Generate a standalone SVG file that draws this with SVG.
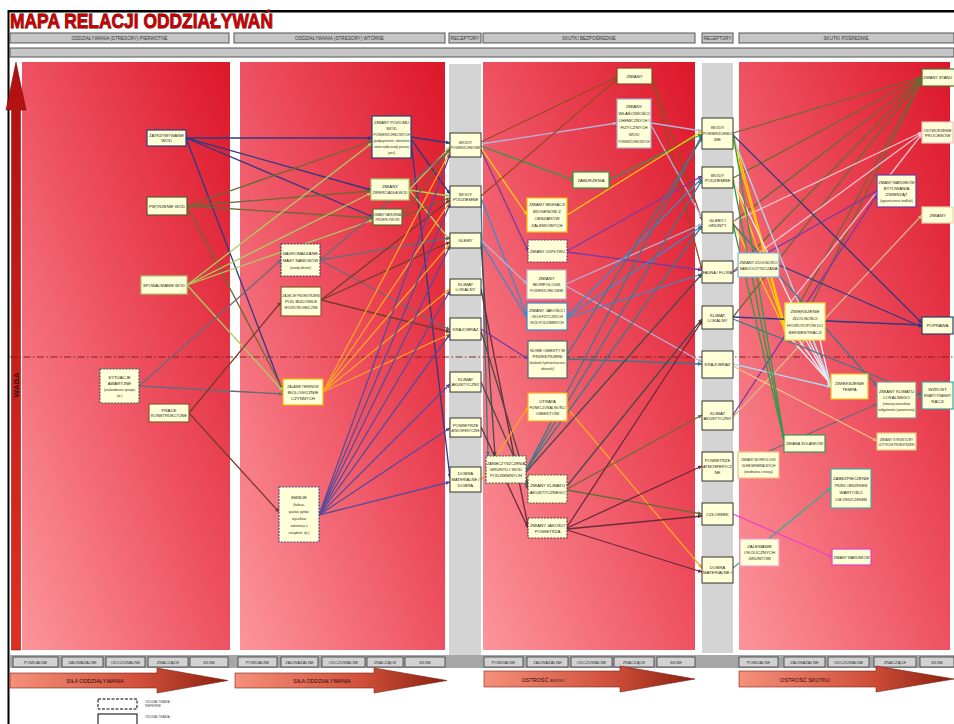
<svg xmlns="http://www.w3.org/2000/svg" width="954" height="724" viewBox="0 0 954 724">
<defs>
<linearGradient id="panel" x1="0" y1="1" x2="1" y2="0">
<stop offset="0" stop-color="#fc959b"/><stop offset="0.5" stop-color="#ee5262"/><stop offset="1" stop-color="#dc1729"/>
</linearGradient>
<linearGradient id="arr" x1="0" y1="0" x2="1" y2="0">
<stop offset="0" stop-color="#f5907a"/><stop offset="0.6" stop-color="#d0503a"/><stop offset="1" stop-color="#8a1f10"/>
</linearGradient>
<linearGradient id="waga" x1="0" y1="1" x2="0" y2="0">
<stop offset="0" stop-color="#e03020"/><stop offset="1" stop-color="#b01010"/>
</linearGradient>
<marker id="m-nv" viewBox="0 0 6 6" refX="6" refY="3" markerWidth="4" markerHeight="4" orient="auto" markerUnits="userSpaceOnUse"><path d="M0,0L6,3L0,6z" fill="#2e3a82"/></marker>
<marker id="m-ol" viewBox="0 0 6 6" refX="6" refY="3" markerWidth="4" markerHeight="4" orient="auto" markerUnits="userSpaceOnUse"><path d="M0,0L6,3L0,6z" fill="#6b6a34"/></marker>
<marker id="m-lg" viewBox="0 0 6 6" refX="6" refY="3" markerWidth="4" markerHeight="4" orient="auto" markerUnits="userSpaceOnUse"><path d="M0,0L6,3L0,6z" fill="#a8d060"/></marker>
<marker id="m-gy" viewBox="0 0 6 6" refX="6" refY="3" markerWidth="4" markerHeight="4" orient="auto" markerUnits="userSpaceOnUse"><path d="M0,0L6,3L0,6z" fill="#6a6a78"/></marker>
<marker id="m-br" viewBox="0 0 6 6" refX="6" refY="3" markerWidth="4" markerHeight="4" orient="auto" markerUnits="userSpaceOnUse"><path d="M0,0L6,3L0,6z" fill="#7a3a2a"/></marker>
<marker id="m-or" viewBox="0 0 6 6" refX="6" refY="3" markerWidth="4" markerHeight="4" orient="auto" markerUnits="userSpaceOnUse"><path d="M0,0L6,3L0,6z" fill="#ffa520"/></marker>
<marker id="m-pu" viewBox="0 0 6 6" refX="6" refY="3" markerWidth="4" markerHeight="4" orient="auto" markerUnits="userSpaceOnUse"><path d="M0,0L6,3L0,6z" fill="#5a4a9a"/></marker>
<marker id="m-bn" viewBox="0 0 6 6" refX="6" refY="3" markerWidth="4" markerHeight="4" orient="auto" markerUnits="userSpaceOnUse"><path d="M0,0L6,3L0,6z" fill="#9a4a22"/></marker>
<marker id="m-lv" viewBox="0 0 6 6" refX="6" refY="3" markerWidth="4" markerHeight="4" orient="auto" markerUnits="userSpaceOnUse"><path d="M0,0L6,3L0,6z" fill="#b4b4d8"/></marker>
<marker id="m-gn" viewBox="0 0 6 6" refX="6" refY="3" markerWidth="4" markerHeight="4" orient="auto" markerUnits="userSpaceOnUse"><path d="M0,0L6,3L0,6z" fill="#2e9a4a"/></marker>
<marker id="m-ye" viewBox="0 0 6 6" refX="6" refY="3" markerWidth="4" markerHeight="4" orient="auto" markerUnits="userSpaceOnUse"><path d="M0,0L6,3L0,6z" fill="#ffd000"/></marker>
<marker id="m-vi" viewBox="0 0 6 6" refX="6" refY="3" markerWidth="4" markerHeight="4" orient="auto" markerUnits="userSpaceOnUse"><path d="M0,0L6,3L0,6z" fill="#7a3aa0"/></marker>
<marker id="m-bl" viewBox="0 0 6 6" refX="6" refY="3" markerWidth="4" markerHeight="4" orient="auto" markerUnits="userSpaceOnUse"><path d="M0,0L6,3L0,6z" fill="#3a8ad0"/></marker>
<marker id="m-tl" viewBox="0 0 6 6" refX="6" refY="3" markerWidth="4" markerHeight="4" orient="auto" markerUnits="userSpaceOnUse"><path d="M0,0L6,3L0,6z" fill="#3a7a8a"/></marker>
<marker id="m-dk" viewBox="0 0 6 6" refX="6" refY="3" markerWidth="4" markerHeight="4" orient="auto" markerUnits="userSpaceOnUse"><path d="M0,0L6,3L0,6z" fill="#4a4a4a"/></marker>
<marker id="m-dr" viewBox="0 0 6 6" refX="6" refY="3" markerWidth="4" markerHeight="4" orient="auto" markerUnits="userSpaceOnUse"><path d="M0,0L6,3L0,6z" fill="#6a2a3a"/></marker>
<marker id="m-wh" viewBox="0 0 6 6" refX="6" refY="3" markerWidth="4" markerHeight="4" orient="auto" markerUnits="userSpaceOnUse"><path d="M0,0L6,3L0,6z" fill="#eeeef6"/></marker>
<marker id="m-pk" viewBox="0 0 6 6" refX="6" refY="3" markerWidth="4" markerHeight="4" orient="auto" markerUnits="userSpaceOnUse"><path d="M0,0L6,3L0,6z" fill="#f4c0c8"/></marker>
<marker id="m-tn" viewBox="0 0 6 6" refX="6" refY="3" markerWidth="4" markerHeight="4" orient="auto" markerUnits="userSpaceOnUse"><path d="M0,0L6,3L0,6z" fill="#d8b888"/></marker>
<marker id="m-mg" viewBox="0 0 6 6" refX="6" refY="3" markerWidth="4" markerHeight="4" orient="auto" markerUnits="userSpaceOnUse"><path d="M0,0L6,3L0,6z" fill="#f040c0"/></marker>
<marker id="m-lo" viewBox="0 0 6 6" refX="6" refY="3" markerWidth="4" markerHeight="4" orient="auto" markerUnits="userSpaceOnUse"><path d="M0,0L6,3L0,6z" fill="#f8c080"/></marker>
<marker id="m-lb" viewBox="0 0 6 6" refX="6" refY="3" markerWidth="4" markerHeight="4" orient="auto" markerUnits="userSpaceOnUse"><path d="M0,0L6,3L0,6z" fill="#a8dcf0"/></marker>
<marker id="m-tg" viewBox="0 0 6 6" refX="6" refY="3" markerWidth="4" markerHeight="4" orient="auto" markerUnits="userSpaceOnUse"><path d="M0,0L6,3L0,6z" fill="#30b090"/></marker>
</defs>
<style>
text{font-family:"Liberation Sans",Arial,sans-serif;}
.t{font-size:4.3px;fill:#1a1a1a;text-anchor:middle;}
.ts{font-size:3.3px;fill:#2a2a2a;text-anchor:middle;}
.h{font-size:4.6px;fill:#333;text-anchor:middle;}
.hb{fill:#c6c6c6;stroke:#555;stroke-width:1;}
.btn{fill:#d2d2d2;stroke:#3a3a3a;stroke-width:0.8;}
.bt{font-size:4.2px;fill:#333;text-anchor:middle;}
.nd{fill:#ffffd8;stroke-width:1.2;}
.dash{stroke-dasharray:2,1.2;}
.rc{fill:#ffffd8;stroke:#333;stroke-width:1;}
.pan{fill:url(#panel);}
.c line{stroke-width:1.3;fill:none;}
.nv{stroke:#2e3a82;marker-end:url(#m-nv);}
.ol{stroke:#6b6a34;marker-end:url(#m-ol);}
.lg{stroke:#a8d060;marker-end:url(#m-lg);}
.gy{stroke:#6a6a78;marker-end:url(#m-gy);}
.br{stroke:#7a3a2a;marker-end:url(#m-br);}
.or{stroke:#ffa520;marker-end:url(#m-or);}
.pu{stroke:#5a4a9a;marker-end:url(#m-pu);}
.bn{stroke:#9a4a22;marker-end:url(#m-bn);}
.lv{stroke:#b4b4d8;marker-end:url(#m-lv);}
.gn{stroke:#2e9a4a;marker-end:url(#m-gn);}
.ye{stroke:#ffd000;marker-end:url(#m-ye);}
.vi{stroke:#7a3aa0;marker-end:url(#m-vi);}
.bl{stroke:#3a8ad0;marker-end:url(#m-bl);}
.tl{stroke:#3a7a8a;marker-end:url(#m-tl);}
.dk{stroke:#4a4a4a;marker-end:url(#m-dk);}
.dr{stroke:#6a2a3a;marker-end:url(#m-dr);}
.wh{stroke:#eeeef6;marker-end:url(#m-wh);}
.pk{stroke:#f4c0c8;marker-end:url(#m-pk);}
.tn{stroke:#d8b888;marker-end:url(#m-tn);}
.mg{stroke:#f040c0;marker-end:url(#m-mg);}
.lo{stroke:#f8c080;marker-end:url(#m-lo);}
.lb{stroke:#a8dcf0;marker-end:url(#m-lb);}
.tg{stroke:#30b090;marker-end:url(#m-tg);}
.arrow{fill:url(#arr);stroke:#7a2010;stroke-width:0.6;}
.at{font-size:5.4px;fill:#2a0a0a;text-anchor:middle;}
</style>
<rect x="0" y="0" width="954" height="724" fill="#ffffff"/>
<!-- frame -->
<line x1="8" y1="11.3" x2="954" y2="11.3" stroke="#000" stroke-width="2.6"/>
<line x1="8.5" y1="10" x2="8.5" y2="724" stroke="#000" stroke-width="2"/>
<text x="10" y="27.5" font-size="21" font-weight="bold" fill="#cc0000" stroke="#3a0000" stroke-width="0.8" paint-order="stroke" textLength="263" lengthAdjust="spacingAndGlyphs">MAPA RELACJI ODDZIAŁYWAŃ</text>
<!-- header -->
<g id="header">
<rect class="hb" x="10" y="33" width="219" height="10"/><text class="h" x="119.5" y="39.8">ODDZIAŁYWANIA (STRESORY) PIERWOTNE</text>
<rect class="hb" x="234" y="33" width="211" height="10"/><text class="h" x="339.5" y="39.8">ODDZIAŁYWANIA (STRESORY) WTÓRNE</text>
<rect class="hb" x="449" y="33" width="32" height="10"/><text class="h" x="465" y="39.8" textLength="29" lengthAdjust="spacingAndGlyphs">RECEPTORY</text>
<rect class="hb" x="483" y="33" width="212" height="10"/><text class="h" x="589" y="39.8">SKUTKI BEZPOŚREDNIE</text>
<rect class="hb" x="702" y="33" width="31" height="10"/><text class="h" x="717.5" y="39.8" textLength="28" lengthAdjust="spacingAndGlyphs">RECEPTORY</text>
<rect class="hb" x="739" y="33" width="215" height="10"/><text class="h" x="846" y="39.8">SKUTKI POŚREDNIE</text>
<rect class="hb" x="10" y="48" width="944" height="9"/>
</g>
<!-- panels -->
<g id="panels">
<rect class="pan" x="22" y="62" width="208" height="588"/>
<rect class="pan" x="240" y="62" width="205" height="588"/>
<rect x="449" y="64" width="32" height="592" fill="#d4d4d4"/>
<rect class="pan" x="483" y="62" width="212" height="588"/>
<rect x="702" y="63" width="31" height="590" fill="#d4d4d4"/>
<rect class="pan" x="739" y="62" width="211" height="588"/>
</g>
<!-- WAGA arrow -->
<g id="waga">
<polygon points="16,62 26,110 20.5,110 20.5,650 11.5,650 11.5,110 6,110" fill="url(#waga)" stroke="#700" stroke-width="0.5"/>
<text x="19" y="385" font-size="8" font-weight="bold" fill="#3a0a0a" text-anchor="middle" transform="rotate(-90 19 385)">WAGA</text>
</g>
<line x1="10" y1="357" x2="954" y2="357" stroke="#7a1a1a" stroke-width="0.9" stroke-dasharray="7,2.5,1.5,2.5"/>
<!-- connectors -->
<g id="connectors" class="c">
<line class="nv" x1="186" y1="138" x2="372" y2="138"/>
<line class="nv" x1="186" y1="138" x2="371" y2="190"/>
<line class="nv" x1="186" y1="138" x2="373" y2="217"/>
<line class="nv" x1="186" y1="138" x2="283" y2="392"/>
<line class="ol" x1="187" y1="206" x2="372" y2="141"/>
<line class="ol" x1="187" y1="206" x2="371" y2="191"/>
<line class="ol" x1="187" y1="206" x2="373" y2="218"/>
<line class="ol" x1="187" y1="206" x2="283" y2="390"/>
<line class="lg" x1="187" y1="285" x2="372" y2="143"/>
<line class="lg" x1="187" y1="285" x2="371" y2="193"/>
<line class="lg" x1="187" y1="285" x2="373" y2="220"/>
<line class="lg" x1="187" y1="285" x2="283" y2="391"/>
<line class="gy" x1="139" y1="386" x2="281" y2="260"/>
<line class="gy" x1="139" y1="386" x2="283" y2="394"/>
<line class="br" x1="189" y1="413" x2="281" y2="302"/>
<line class="br" x1="189" y1="413" x2="279" y2="512"/>

<line class="nv" x1="411" y1="137" x2="450" y2="143"/>
<line class="nv" x1="411" y1="139" x2="450" y2="194"/>
<line class="nv" x1="411" y1="141" x2="450" y2="478"/>
<line class="lg" x1="409" y1="190" x2="450" y2="147"/>
<line class="lg" x1="409" y1="190" x2="450" y2="196"/>
<line class="lg" x1="409" y1="190" x2="450" y2="240"/>
<line class="ol" x1="402" y1="217" x2="450" y2="149"/>
<line class="ol" x1="402" y1="217" x2="450" y2="198"/>
<line class="gy" x1="320" y1="260" x2="450" y2="150"/>
<line class="gy" x1="320" y1="260" x2="450" y2="238"/>
<line class="gy" x1="320" y1="260" x2="450" y2="330"/>
<line class="br" x1="321" y1="300" x2="450" y2="200"/>
<line class="br" x1="321" y1="300" x2="450" y2="242"/>
<line class="br" x1="321" y1="300" x2="450" y2="332"/>
<line class="or" x1="323" y1="392" x2="450" y2="152"/>
<line class="or" x1="323" y1="392" x2="450" y2="202"/>
<line class="or" x1="323" y1="392" x2="450" y2="244"/>
<line class="or" x1="323" y1="392" x2="450" y2="289"/>
<line class="or" x1="323" y1="392" x2="450" y2="334"/>
<line class="pu" x1="319" y1="515" x2="450" y2="154"/>
<line class="pu" x1="319" y1="515" x2="450" y2="204"/>
<line class="pu" x1="319" y1="515" x2="450" y2="246"/>
<line class="pu" x1="319" y1="515" x2="450" y2="291"/>
<line class="pu" x1="319" y1="515" x2="450" y2="334"/>
<line class="pu" x1="319" y1="515" x2="450" y2="384"/>
<line class="pu" x1="319" y1="515" x2="450" y2="428"/>
<line class="pu" x1="319" y1="515" x2="450" y2="482"/>

<line class="bn" x1="481" y1="142" x2="617" y2="77"/>
<line class="lv" x1="481" y1="144" x2="617" y2="123"/>
<line class="gn" x1="481" y1="146" x2="573" y2="180"/>
<line class="ye" x1="481" y1="148" x2="527" y2="215"/>
<line class="vi" x1="481" y1="150" x2="528" y2="251"/>
<line class="bn" x1="481" y1="196" x2="617" y2="79"/>
<line class="bl" x1="481" y1="198" x2="527" y2="316"/>
<line class="tl" x1="481" y1="200" x2="488" y2="456"/>
<line class="lv" x1="481" y1="240" x2="527" y2="284"/>
<line class="bl" x1="481" y1="242" x2="527" y2="318"/>
<line class="dk" x1="481" y1="244" x2="495" y2="456"/>
<line class="dr" x1="481" y1="289" x2="528" y2="526"/>
<line class="vi" x1="481" y1="329" x2="528" y2="359"/>
<line class="dk" x1="481" y1="331" x2="528" y2="485"/>
<line class="dk" x1="481" y1="382" x2="528" y2="489"/>
<line class="dr" x1="481" y1="427" x2="528" y2="528"/>
<line class="or" x1="481" y1="480" x2="528" y2="407"/>

<line class="bn" x1="652" y1="77" x2="702" y2="220"/>
<line class="bn" x1="652" y1="79" x2="702" y2="270"/>
<line class="lv" x1="651" y1="123" x2="702" y2="131"/>
<line class="lv" x1="651" y1="125" x2="702" y2="218"/>
<line class="gn" x1="609" y1="180" x2="702" y2="134"/>
<line class="ye" x1="567" y1="215" x2="702" y2="131"/>
<line class="vi" x1="567" y1="251" x2="702" y2="176"/>
<line class="vi" x1="567" y1="252" x2="702" y2="270"/>
<line class="lv" x1="566" y1="284" x2="702" y2="224"/>
<line class="lv" x1="566" y1="286" x2="702" y2="362"/>
<line class="bl" x1="567" y1="316" x2="702" y2="178"/>
<line class="bl" x1="567" y1="317" x2="702" y2="226"/>
<line class="bl" x1="567" y1="318" x2="702" y2="274"/>
<line class="tl" x1="567" y1="359" x2="702" y2="364"/>
<line class="tl" x1="567" y1="355" x2="702" y2="138"/>
<line class="or" x1="567" y1="408" x2="702" y2="568"/>
<line class="tl" x1="526" y1="470" x2="702" y2="135"/>
<line class="tl" x1="526" y1="470" x2="702" y2="180"/>
<line class="tl" x1="526" y1="470" x2="702" y2="226"/>
<line class="dk" x1="526" y1="472" x2="702" y2="274"/>
<line class="ol" x1="567" y1="489" x2="702" y2="415"/>
<line class="ol" x1="567" y1="490" x2="702" y2="514"/>
<line class="dk" x1="567" y1="486" x2="702" y2="319"/>
<line class="dr" x1="567" y1="528" x2="702" y2="466"/>
<line class="dr" x1="567" y1="529" x2="702" y2="516"/>
<line class="dr" x1="567" y1="527" x2="702" y2="321"/>
<line class="dr" x1="567" y1="530" x2="702" y2="572"/>

<line class="ol" x1="733" y1="133" x2="922" y2="77"/>
<line class="ol" x1="733" y1="178" x2="922" y2="77"/>
<line class="ol" x1="733" y1="222" x2="922" y2="78"/>
<line class="ol" x1="733" y1="272" x2="922" y2="78"/>
<line class="ol" x1="733" y1="317" x2="922" y2="79"/>
<line class="ol" x1="800" y1="303" x2="922" y2="79"/>
<line class="ol" x1="812" y1="303" x2="922" y2="80"/>
<line class="pk" x1="733" y1="222" x2="922" y2="132"/>
<line class="pk" x1="733" y1="272" x2="922" y2="133"/>
<line class="pk" x1="790" y1="303" x2="922" y2="134"/>
<line class="ye" x1="733" y1="133" x2="786" y2="330"/>
<line class="ye" x1="733" y1="178" x2="786" y2="331"/>
<line class="ye" x1="733" y1="222" x2="786" y2="332"/>
<line class="ye" x1="733" y1="140" x2="786" y2="333"/>
<line class="vi" x1="733" y1="272" x2="877" y2="191"/>
<line class="vi" x1="733" y1="415" x2="877" y2="195"/>
<line class="tn" x1="733" y1="417" x2="922" y2="215"/>
<line class="nv" x1="733" y1="135" x2="922" y2="323"/>
<line class="nv" x1="733" y1="317" x2="922" y2="325"/>
<line class="nv" x1="779" y1="265" x2="922" y2="327"/>
<line class="wh" x1="792" y1="340" x2="831" y2="384"/>
<line class="wh" x1="799" y1="340" x2="831" y2="385"/>
<line class="wh" x1="806" y1="340" x2="831" y2="386"/>
<line class="wh" x1="813" y1="340" x2="831" y2="387"/>
<line class="wh" x1="820" y1="340" x2="831" y2="388"/>
<line class="wh" x1="733" y1="180" x2="831" y2="386"/>
<line class="lb" x1="733" y1="364" x2="831" y2="387"/>
<line class="lb" x1="733" y1="137" x2="831" y2="385"/>
<line class="tl" x1="733" y1="319" x2="922" y2="395"/>
<line class="tl" x1="733" y1="224" x2="877" y2="386"/>
<line class="gy" x1="767" y1="452" x2="877" y2="404"/>
<line class="lo" x1="733" y1="366" x2="877" y2="441"/>
<line class="gn" x1="733" y1="133" x2="784" y2="438"/>
<line class="gn" x1="733" y1="180" x2="784" y2="439"/>
<line class="gn" x1="733" y1="224" x2="784" y2="440"/>
<line class="tg" x1="733" y1="568" x2="831" y2="488"/>
<line class="mg" x1="733" y1="514" x2="832" y2="557"/>
<line x1="916" y1="398" x2="922" y2="396" stroke="#3a9a9a" stroke-width="2.5"/>
</g>
<!-- column 1 nodes -->
<g id="n_zatrzymywanie"><rect class="nd" x="147" y="130" width="39" height="16" stroke="#2c3e7a"/><text class="t" x="166.5" y="137" textLength="35" lengthAdjust="spacingAndGlyphs">ZATRZYMYWANIE</text><text class="t" x="166.5" y="142">WÓD</text></g>
<g id="n_pietrzenie"><rect class="nd" x="147" y="197" width="40" height="18" stroke="#5b5a2c"/><text class="t" x="167" y="207.5" textLength="36" lengthAdjust="spacingAndGlyphs">PIĘTRZENIE WÓD</text></g>
<g id="n_spowalnianie"><rect class="nd" x="141" y="276" width="46" height="18" stroke="#a6d06a"/><text class="t" x="164" y="286.5" textLength="42" lengthAdjust="spacingAndGlyphs">SPOWALNIANIE WÓD</text></g>
<g id="n_sytuacje"><rect class="nd dash" x="100" y="369" width="39" height="34" stroke="#3d6060"/><text class="t" x="119.5" y="379">SYTUACJE</text><text class="t" x="119.5" y="385">AWARYJNE</text><text class="ts" x="119.5" y="391">(uszkodzenia sprzętu</text><text class="ts" x="119.5" y="397">itp.)</text></g>
<g id="n_prace"><rect class="nd" x="149" y="404" width="40" height="18" stroke="#8a5a2a"/><text class="t" x="169" y="412">PRACE</text><text class="t" x="169" y="417" textLength="36" lengthAdjust="spacingAndGlyphs">KONSTRUKCYJNE</text></g>
<!-- column 2 nodes -->
<g id="n_zm_poziomu"><rect class="nd" x="372" y="116" width="39" height="42" stroke="#2c3e7a"/><text class="t" x="391.5" y="123.5" textLength="35" lengthAdjust="spacingAndGlyphs">ZMIANY POZIOMU</text><text class="t" x="391.5" y="129.5">WÓD</text><text class="ts" x="391.5" y="135.5">POWIERZCHNIOWYCH</text><text class="ts" x="391.5" y="141.5" textLength="36" lengthAdjust="spacingAndGlyphs">(podpiętrzenie i obniżenie</text><text class="ts" x="391.5" y="147.5" textLength="35" lengthAdjust="spacingAndGlyphs">zwierciadła wody poniżej</text><text class="ts" x="391.5" y="153.5">jazu)</text></g>
<g id="n_zm_zwierciadla"><rect class="nd" x="371" y="179" width="38" height="21" stroke="#a6d06a"/><text class="t" x="390" y="188">ZMIANY</text><text class="t" x="390" y="194" textLength="35" lengthAdjust="spacingAndGlyphs">ZWIERCIADŁA WÓD</text></g>
<g id="n_zm_natezenia"><rect class="nd" x="373" y="209" width="29" height="16" stroke="#5b6a2c"/><text class="ts" x="387.5" y="216" textLength="27" lengthAdjust="spacingAndGlyphs">ZMIANY NATĘŻENIA</text><text class="ts" x="387.5" y="221">PRZEPŁYWÓW</text></g>
<g id="n_nagromadzanie"><rect class="nd dash" x="281" y="244" width="39" height="32" stroke="#3a3a6a"/><text class="t" x="300.5" y="254.5" textLength="35" lengthAdjust="spacingAndGlyphs">NAGROMADZANIE</text><text class="t" x="300.5" y="261.5" textLength="35" lengthAdjust="spacingAndGlyphs">MASY NANIOSÓW</text><text class="ts" x="300.5" y="268.5">(osady denne)</text></g>
<g id="n_zajecie"><rect class="nd" x="281" y="287" width="40" height="29" stroke="#8a5a2a"/><text class="ts" x="301" y="297">ZAJĘCIE PRZESTRZENI</text><text class="t" x="301" y="303">POD BUDOWLE</text><text class="ts" x="301" y="309">HYDROTECHNICZNE</text></g>
<g id="n_zalanie"><rect class="nd" x="283" y="379" width="40" height="26" stroke="#f5b800"/><text class="ts" x="303" y="387.5">ZALANIE TERENÓW</text><text class="t" x="303" y="393.5">BIOLOGICZNIE</text><text class="t" x="303" y="399.5">CZYNNYCH</text></g>
<g id="n_emisje"><rect class="nd dash" x="279" y="487" width="40" height="55" stroke="#4a4a8a"/><text class="t" x="299" y="498.5">EMISJE</text><text class="ts" x="299" y="505.5">(hałasu,</text><text class="ts" x="299" y="512.5">gazów, pyłów,</text><text class="ts" x="299" y="519.5">wycieków</text><text class="ts" x="299" y="526.5">substancji z</text><text class="ts" x="299" y="533.5">urządzeń, itp.)</text></g>
<!-- receptors 1 -->
<g id="r1_wody_pow"><rect class="rc" x="450" y="133" width="31" height="24"/><text class="t" x="465.5" y="144">WODY</text><text class="ts" x="465.5" y="149" textLength="29" lengthAdjust="spacingAndGlyphs">POWIERZCHNIOWE</text></g>
<g id="r1_wody_pod"><rect class="rc" x="450" y="186" width="31" height="21"/><text class="t" x="465.5" y="195.5">WODY</text><text class="t" x="465.5" y="200.5">PODZIEMNE</text></g>
<g id="r1_gleby"><rect class="rc" x="450" y="233" width="31" height="15"/><text class="t" x="465.5" y="242">GLEBY</text></g>
<g id="r1_klimat_lok"><rect class="rc" x="450" y="279" width="31" height="16"/><text class="t" x="465.5" y="286">KLIMAT</text><text class="t" x="465.5" y="291">LOKALNY</text></g>
<g id="r1_krajobraz"><rect class="rc" x="450" y="318" width="31" height="22"/><text class="t" x="465.5" y="330.5">KRAJOBRAZ</text></g>
<g id="r1_klimat_ak"><rect class="rc" x="450" y="372" width="31" height="20"/><text class="t" x="465.5" y="381">KLIMAT</text><text class="t" x="465.5" y="386" textLength="28" lengthAdjust="spacingAndGlyphs">AKUSTYCZNY</text></g>
<g id="r1_powietrze"><rect class="rc" x="450" y="418" width="31" height="19"/><text class="t" x="465.5" y="426.5">POWIETRZE</text><text class="ts" x="465.5" y="431.5" textLength="28" lengthAdjust="spacingAndGlyphs">ATMOSFERYCZNE</text></g>
<g id="r1_dobra"><rect class="rc" x="450" y="467" width="31" height="25"/><text class="t" x="465.5" y="475">DOBRA</text><text class="t" x="465.5" y="481" textLength="28" lengthAdjust="spacingAndGlyphs">MATERIALNE /</text><text class="t" x="465.5" y="487">DOBRA</text></g>
<!-- column 4 nodes -->
<g id="s_zmiany1"><rect class="nd" x="617" y="68" width="35" height="16" stroke="#8a4a1a"/><text class="t" x="634.5" y="77.5">ZMIANY</text></g>
<g id="s_wlasciwosci"><rect class="nd" x="617" y="99" width="34" height="49" stroke="#a8a8cc"/><text class="t" x="634" y="107.5">ZMIANY</text><text class="t" x="634" y="114.5">WŁAŚCIWOŚCI</text><text class="t" x="634" y="121.5" textLength="31" lengthAdjust="spacingAndGlyphs">CHEMICZNYCH I</text><text class="t" x="634" y="128.5">FIZYCZNYCH</text><text class="t" x="634" y="135.5">WÓD</text><text class="ts" x="634" y="142.5" textLength="31" lengthAdjust="spacingAndGlyphs">POWIERZCHNIOWYCH</text></g>
<g id="s_zaburzenia"><rect class="nd" x="573" y="172" width="36" height="16" stroke="#2e9a4a"/><text class="t" x="591" y="181.5">ZABURZENIA</text></g>
<g id="s_migracji"><rect class="nd" x="527" y="198" width="40" height="34" stroke="#f0c000"/><text class="t" x="547" y="206" textLength="36" lengthAdjust="spacingAndGlyphs">ZMIANY MIGRACJI</text><text class="t" x="547" y="213">BIOGENÓW Z</text><text class="t" x="547" y="220">OBSZARÓW</text><text class="t" x="547" y="227">ZALEWOWYCH</text></g>
<g id="s_odplywu"><rect class="nd dash" x="528" y="240" width="39" height="22" stroke="#6a3a6a"/><text class="t" x="547.5" y="252.5" textLength="35" lengthAdjust="spacingAndGlyphs">ZMIANY ODPŁYWU</text></g>
<g id="s_morfologii"><rect class="nd" x="527" y="270" width="39" height="29" stroke="#b8b8d8"/><text class="t" x="546.5" y="280">ZMIANY</text><text class="t" x="546.5" y="286">MORFOLOGII</text><text class="ts" x="546.5" y="292">POWIERZCHNI ZIEMI</text></g>
<g id="s_jakosci_wod"><rect class="nd" x="527" y="303" width="40" height="27" stroke="#3a8ad0"/><text class="t" x="547" y="312" textLength="36" lengthAdjust="spacingAndGlyphs">ZMIANY JAKOŚCI I</text><text class="ts" x="547" y="318">CECH FIZYCZNYCH</text><text class="ts" x="547" y="324">WÓD PODZIEMNYCH</text></g>
<g id="s_nowe_obiekty"><rect class="nd" x="528" y="341" width="39" height="37" stroke="#4a6a7a"/><text class="t" x="547.5" y="352" textLength="35" lengthAdjust="spacingAndGlyphs">NOWE OBIEKTY W</text><text class="t" x="547.5" y="358">PRZESTRZENI</text><text class="ts" x="547.5" y="364" textLength="36" lengthAdjust="spacingAndGlyphs">(budowle hydrotechniczne,</text><text class="ts" x="547.5" y="370">zbiorniki)</text></g>
<g id="s_utrata"><rect class="nd" x="528" y="393" width="39" height="28" stroke="#f5b020"/><text class="t" x="547.5" y="402.5">UTRATA</text><text class="t" x="547.5" y="408.5" textLength="36" lengthAdjust="spacingAndGlyphs">FUNKCJONALNOŚCI</text><text class="t" x="547.5" y="414.5">OBIEKTÓW</text></g>
<g id="s_zanieczyszczenia"><rect class="nd dash" x="486" y="456" width="40" height="27" stroke="#3a5a6a"/><text class="t" x="506" y="465" textLength="38" lengthAdjust="spacingAndGlyphs">ZANIECZYSZCZENIA</text><text class="t" x="506" y="471">GRUNTU I WÓD</text><text class="t" x="506" y="477">PODZIEMNYCH</text></g>
<g id="s_klimatu_ak"><rect class="nd dash" x="528" y="475" width="39" height="28" stroke="#5a5a3a"/><text class="t" x="547.5" y="487" textLength="35" lengthAdjust="spacingAndGlyphs">ZMIANY KLIMATU</text><text class="t" x="547.5" y="494">AKUSTYCZNEGO</text></g>
<g id="s_jakosci_pow"><rect class="nd dash" x="528" y="518" width="39" height="20" stroke="#6a2a3a"/><text class="t" x="547.5" y="526.5" textLength="35" lengthAdjust="spacingAndGlyphs">ZMIANY JAKOŚCI</text><text class="t" x="547.5" y="532.5">POWIETRZA</text></g>
<!-- receptors 2 -->
<g id="r2_wody_pow"><rect class="rc" x="702" y="118" width="31" height="31"/><text class="t" x="717.5" y="129">WODY</text><text class="t" x="717.5" y="135" textLength="29" lengthAdjust="spacingAndGlyphs">POWIERZCHNIO</text><text class="t" x="717.5" y="141">WE</text></g>
<g id="r2_wody_pod"><rect class="rc" x="702" y="167" width="31" height="21"/><text class="t" x="717.5" y="176.5">WODY</text><text class="t" x="717.5" y="181.5">PODZIEMNE</text></g>
<g id="r2_gleby"><rect class="rc" x="702" y="212" width="31" height="21"/><text class="t" x="717.5" y="221.5">GLEBY I</text><text class="t" x="717.5" y="226.5">GRUNTY</text></g>
<g id="r2_fauna"><rect class="rc" x="702" y="261" width="31" height="22"/><text class="t" x="717.5" y="273.5" textLength="30" lengthAdjust="spacingAndGlyphs">FAUNA / FLORA</text></g>
<g id="r2_klimat_lok"><rect class="rc" x="702" y="306" width="31" height="23"/><text class="t" x="717.5" y="316.5">KLIMAT</text><text class="t" x="717.5" y="321.5">LOKALNY</text></g>
<g id="r2_krajobraz"><rect class="rc" x="702" y="351" width="31" height="27"/><text class="t" x="717.5" y="366">KRAJOBRAZ</text></g>
<g id="r2_klimat_ak"><rect class="rc" x="702" y="401" width="31" height="29"/><text class="t" x="717.5" y="414.5">KLIMAT</text><text class="t" x="717.5" y="419.5" textLength="28" lengthAdjust="spacingAndGlyphs">AKUSTYCZNY</text></g>
<g id="r2_powietrze"><rect class="rc" x="702" y="452" width="31" height="29"/><text class="t" x="717.5" y="462">POWIETRZE</text><text class="t" x="717.5" y="468" textLength="29" lengthAdjust="spacingAndGlyphs">ATMOSFERYCZ</text><text class="t" x="717.5" y="474">NE</text></g>
<g id="r2_czlowiek"><rect class="rc" x="702" y="503" width="31" height="22"/><text class="t" x="717.5" y="515.5">CZŁOWIEK</text></g>
<g id="r2_dobra"><rect class="rc" x="702" y="557" width="31" height="26"/><text class="t" x="717.5" y="569">DOBRA</text><text class="t" x="717.5" y="574" textLength="29" lengthAdjust="spacingAndGlyphs">MATERIALNE /</text></g>
<!-- column 6 nodes -->
<g id="p_zmiany_stanu"><rect class="nd" x="922" y="69" width="34" height="17" stroke="#5b6a2c"/><text class="t" x="937.5" y="79" textLength="29" lengthAdjust="spacingAndGlyphs">ZMIANY STANU</text></g>
<g id="p_odtworzenie"><rect class="nd" x="922" y="122" width="31" height="21" stroke="#f0c0c0"/><text class="t" x="937.5" y="131.5" textLength="28" lengthAdjust="spacingAndGlyphs">ODTWORZENIE</text><text class="t" x="937.5" y="136.5">PROCESÓW</text></g>
<g id="p_bytowania"><rect class="nd" x="877" y="175" width="39" height="32" stroke="#6a3aa0"/><text class="t" x="896.5" y="183.5" textLength="36" lengthAdjust="spacingAndGlyphs">ZMIANY WARUNKÓW</text><text class="t" x="896.5" y="189.5">BYTOWANIA</text><text class="t" x="896.5" y="195.5">ZWIERZĄT</text><text class="ts" x="896.5" y="201.5">(ograniczenie siedlisk)</text></g>
<g id="p_zmiany2"><rect class="nd" x="922" y="207" width="31" height="16" stroke="#e8d8a8"/><text class="t" x="937.5" y="216.5">ZMIANY</text></g>
<g id="p_samooczyszczania"><rect class="nd" x="738" y="253" width="41" height="24" stroke="#8ab0d0"/><text class="t" x="758.5" y="263.5" textLength="38" lengthAdjust="spacingAndGlyphs">ZMIANY ZDOLNOŚCI</text><text class="t" x="758.5" y="269.5" textLength="38" lengthAdjust="spacingAndGlyphs">SAMOOCZYSZCZANIA</text></g>
<g id="p_sekwestracji"><rect class="nd" x="785" y="303" width="40" height="37" stroke="#f0e040"/><text class="t" x="805" y="312.5">ZWIĘKSZENIE</text><text class="t" x="805" y="319.5">ZDOLNOŚCI</text><text class="t" x="805" y="326.5" textLength="36" lengthAdjust="spacingAndGlyphs">HYDROTOPÓW DO</text><text class="t" x="805" y="333.5">SEKWESTRACJI</text></g>
<g id="p_poprawa"><rect class="nd" x="922" y="317" width="31" height="17" stroke="#2c3e6a"/><text class="t" x="937.5" y="327">POPRAWA</text></g>
<g id="p_tempa"><rect class="nd" x="831" y="374" width="37" height="25" stroke="#f0c020"/><text class="t" x="849.5" y="384.5">ZWIĘKSZENIE</text><text class="t" x="849.5" y="390.5">TEMPA</text></g>
<g id="p_klimatu_lok"><rect class="nd" x="877" y="382" width="39" height="36" stroke="#909090"/><text class="t" x="896.5" y="392.5" textLength="35" lengthAdjust="spacingAndGlyphs">ZMIANY KLIMATU</text><text class="t" x="896.5" y="398.5">LOKALNEGO</text><text class="ts" x="896.5" y="404.5">(zmiany warunków</text><text class="ts" x="896.5" y="410.5" textLength="36" lengthAdjust="spacingAndGlyphs">wilgotności powietrza)</text></g>
<g id="p_ewapotranspiracji"><rect class="nd" x="922" y="382" width="31" height="27" stroke="#40a0a0"/><text class="t" x="937.5" y="391">WZROST</text><text class="ts" x="937.5" y="397" textLength="27" lengthAdjust="spacingAndGlyphs">EWAPOTRANSPI</text><text class="t" x="937.5" y="403">RACJI</text></g>
<g id="p_struktury"><rect class="nd" x="877" y="433" width="39" height="17" stroke="#f0c080"/><text class="ts" x="896.5" y="440.5">ZMIANY STRUKTURY</text><text class="ts" x="896.5" y="445.5" textLength="36" lengthAdjust="spacingAndGlyphs">UŻYTKÓW PRZESTRZENI</text></g>
<g id="p_solankow"><rect class="nd" x="784" y="435" width="41" height="17" stroke="#3a9a5a"/><text class="t" x="804.5" y="445" textLength="37" lengthAdjust="spacingAndGlyphs">ZMIANA SOLANKÓW</text></g>
<g id="p_morfologii_gleb"><rect class="nd" x="738" y="452" width="41" height="26" stroke="#f0c080"/><text class="ts" x="758.5" y="460.5">ZMIANY MORFOLOGII</text><text class="ts" x="758.5" y="466.5">GLEB MINERALNYCH</text><text class="ts" x="758.5" y="472.5">(wezbrania i erozja)</text></g>
<g id="p_zabezpieczenie"><rect class="nd" x="831" y="469" width="40" height="39" stroke="#40b0a0"/><text class="t" x="851" y="479.5" textLength="36" lengthAdjust="spacingAndGlyphs">ZABEZPIECZENIE</text><text class="ts" x="851" y="486.5">PRZED OBNIŻENIEM</text><text class="t" x="851" y="493.5">WARTOŚCI</text><text class="ts" x="851" y="500.5">LUB ZNISZCZENIEM</text></g>
<g id="p_zalewanie"><rect class="nd" x="740" y="539" width="39" height="27" stroke="#f0a0d0"/><text class="t" x="759.5" y="548">ZALEWANIE</text><text class="t" x="759.5" y="554">OKOLICZNYCH</text><text class="t" x="759.5" y="560">GRUNTÓW</text></g>
<g id="p_warunkow"><rect class="nd" x="832" y="549" width="39" height="16" stroke="#e040c0"/><text class="t" x="851.5" y="558.5" textLength="36" lengthAdjust="spacingAndGlyphs">ZMIANY WARUNKÓW</text></g>
<!-- bottom scale -->
<g id="scale">
<rect x="10" y="655" width="944" height="13" fill="#a6a6a6"/>
<rect class="btn" x="13" y="657" width="45" height="10"/><text class="bt" x="35.5" y="663.5">POMIJALNE</text>
<rect class="btn" x="62" y="657" width="41" height="10"/><text class="bt" x="82.5" y="663.5">ZAUWAŻALNE</text>
<rect class="btn" x="106" y="657" width="39" height="10"/><text class="bt" x="125.5" y="663.5">ODCZUWALNE</text>
<rect class="btn" x="148" y="657" width="40" height="10"/><text class="bt" x="168" y="663.5">ZNACZĄCE</text>
<rect class="btn" x="190" y="657" width="38" height="10"/><text class="bt" x="209" y="663.5">SILNE</text>
<rect class="btn" x="238" y="657" width="39" height="10"/><text class="bt" x="257.5" y="663.5">POMIJALNE</text>
<rect class="btn" x="281" y="657" width="37" height="10"/><text class="bt" x="299.5" y="663.5">ZAUWAŻALNE</text>
<rect class="btn" x="322" y="657" width="43" height="10"/><text class="bt" x="343.5" y="663.5">ODCZUWALNE</text>
<rect class="btn" x="367" y="657" width="36" height="10"/><text class="bt" x="385" y="663.5">ZNACZĄCE</text>
<rect class="btn" x="405" y="657" width="40" height="10"/><text class="bt" x="425" y="663.5">SILNE</text>
<rect class="btn" x="484" y="657" width="39" height="10"/><text class="bt" x="503.5" y="663.5">POMIJALNE</text>
<rect class="btn" x="527" y="657" width="41" height="10"/><text class="bt" x="547.5" y="663.5">ZAUWAŻALNE</text>
<rect class="btn" x="571" y="657" width="41" height="10"/><text class="bt" x="591.5" y="663.5">ODCZUWALNE</text>
<rect class="btn" x="614" y="657" width="40" height="10"/><text class="bt" x="634" y="663.5">ZNACZĄCE</text>
<rect class="btn" x="657" y="657" width="38" height="10"/><text class="bt" x="676" y="663.5">SILNE</text>
<rect class="btn" x="739" y="657" width="39" height="10"/><text class="bt" x="758.5" y="663.5">POMIJALNE</text>
<rect class="btn" x="784" y="657" width="41" height="10"/><text class="bt" x="804.5" y="663.5">ZAUWAŻALNE</text>
<rect class="btn" x="828" y="657" width="41" height="10"/><text class="bt" x="848.5" y="663.5">ODCZUWALNE</text>
<rect class="btn" x="874" y="657" width="42" height="10"/><text class="bt" x="895" y="663.5">ZNACZĄCE</text>
<rect class="btn" x="920" y="657" width="34" height="10"/><text class="bt" x="937" y="663.5">SILNE</text>
</g>
<g id="arrows">
<polygon class="arrow" points="10,673 157,673 157,668 228,680.5 157,693 157,688 10,688"/><text class="at" x="95" y="682.5">SIŁA ODDZIAŁYWANIA</text>
<polygon class="arrow" points="235,673 374,673 374,668 447,680.5 374,693 374,688 235,688"/><text class="at" x="322" y="682.5">SIŁA ODDZIAŁYWANIA</text>
<polygon class="arrow" points="484,671 620,671 620,666 695,679 620,692 620,687 484,687"/><text class="at" x="543" y="681.5">OSTROŚĆ <tspan font-size="3.6">SKUTKU</tspan></text>
<polygon class="arrow" points="739,671 876,671 876,666 954,679 876,692 876,687 739,687"/><text class="at" x="805" y="681.5">OSTROŚĆ SKUTKU</text>
</g>
<g id="legend">
<rect x="98" y="699" width="39" height="10" fill="#fff" stroke="#000" stroke-width="1" stroke-dasharray="3,1.5"/>
<text x="145" y="703" font-size="3" fill="#444">ODDZIAŁYWANIA</text><text x="145" y="707" font-size="3" fill="#444">NIEPEWNE</text>
<rect x="98" y="714" width="39" height="12" fill="#fff" stroke="#000" stroke-width="1"/>
<text x="145" y="718" font-size="3" fill="#444">ODDZIAŁYWANIA</text>
</g>
</svg>
